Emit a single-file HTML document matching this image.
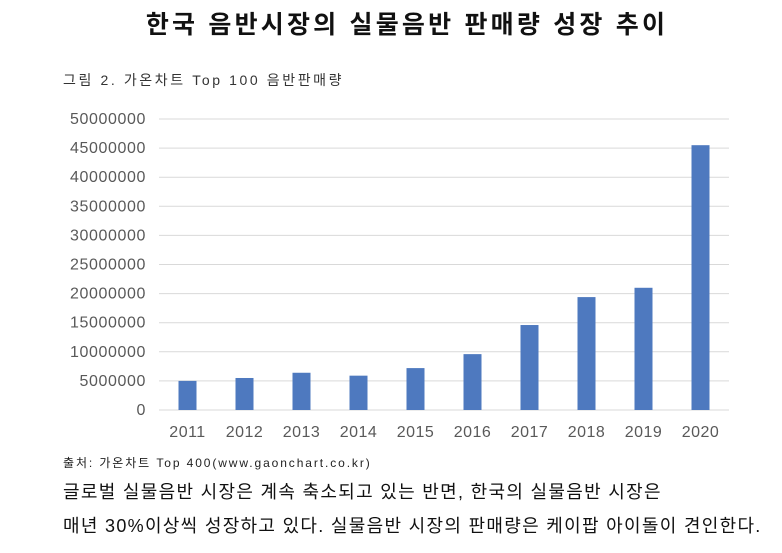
<!DOCTYPE html>
<html><head><meta charset="utf-8"><style>
body{margin:0;width:782px;height:553px;background:#fff;overflow:hidden;font-family:"Liberation Sans","Noto Sans CJK KR",sans-serif;position:relative}
.t{position:absolute;white-space:nowrap}
</style></head><body>
<div class="t" style="left:16px;width:782px;text-align:center;top:5px;font-size:25px;letter-spacing:3.2px;font-weight:bold;color:#111">한국 음반시장의 실물음반 판매량 성장 추이</div>
<div class="t" style="left:63px;top:70px;font-size:14px;color:#333;letter-spacing:2.6px">그림 2. 가온차트 Top 100 음반판매량</div>
<svg width="782" height="553" style="position:absolute;left:0;top:0" id="chart"></svg>
<div class="t" style="left:63px;top:454px;font-size:12px;letter-spacing:1.9px;color:#222">출처: 가온차트 Top 400(www.gaonchart.co.kr)</div>
<div class="t" style="left:63px;top:478px;font-size:18px;letter-spacing:1.3px;color:#111">글로벌 실물음반 시장은 계속 축소되고 있는 반면, 한국의 실물음반 시장은</div>
<div class="t" style="left:63px;top:512px;font-size:18px;letter-spacing:1.3px;color:#111">매년 30%이상씩 성장하고 있다. 실물음반 시장의 판매량은 케이팝 아이돌이 견인한다.</div>
<script>
const categories=["2011","2012","2013","2014","2015","2016","2017","2018","2019","2020"];
const values=[5000000,5500000,6400000,5900000,7200000,9600000,14600000,19400000,21000000,45500000];
const yTicks=[0,5000000,10000000,15000000,20000000,25000000,30000000,35000000,40000000,45000000,50000000];
const NS="http://www.w3.org/2000/svg";
const svg=document.getElementById('chart');
const x0=159,x1=729,yBase=410,yTop=119,yMax=50000000;
const band=(x1-x0)/categories.length;
const y=v=>yBase-(v/yMax)*(yBase-yTop);
const xc=i=>x0+band*(i+0.5);
function mk(t,a){const e=document.createElementNS(NS,t);for(const k in a)e.setAttribute(k,a[k]);svg.appendChild(e);return e;}
yTicks.forEach((v,i)=>{
  const l=mk('line',{x1:x0,x2:x1,y1:y(v),y2:y(v),stroke:'#d9d9d9','stroke-width':1});
  
  
  const t=mk('text',{x:146,y:y(v)+5,'text-anchor':'end','font-size':16,'letter-spacing':0.6,fill:'#595959','font-family':'Liberation Sans, sans-serif'});
  t.textContent=String(v);
  
  
});
categories.forEach((c,i)=>{
  const r=mk('rect',{x:xc(i)-9,y:y(values[i]),width:18,height:yBase-y(values[i]),fill:'#4e79bf'});
  
  
  const t=mk('text',{x:xc(i),y:437,'text-anchor':'middle','font-size':16,'letter-spacing':0.5,fill:'#595959','font-family':'Liberation Sans, sans-serif'});
  t.textContent=c;
  
  
});
</script>
</body></html>
